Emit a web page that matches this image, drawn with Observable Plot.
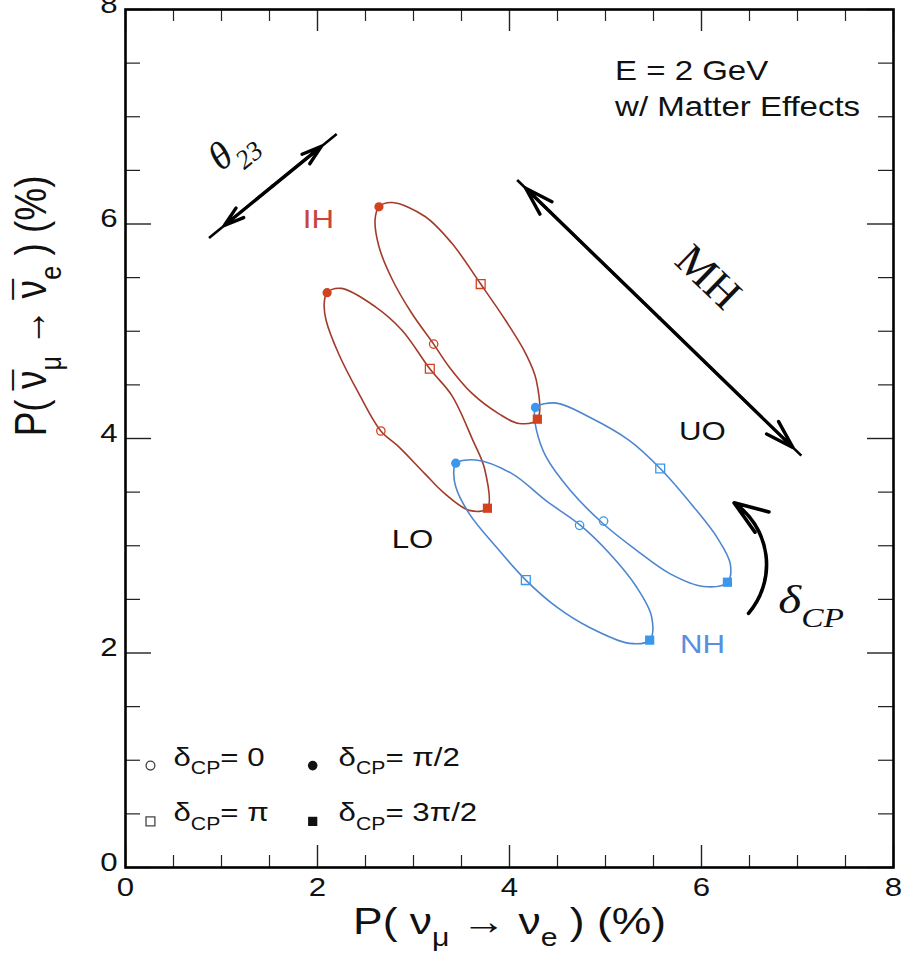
<!DOCTYPE html>
<html><head><meta charset="utf-8">
<script src="https://cdn.jsdelivr.net/npm/d3@7"></script>
<script src="https://cdn.jsdelivr.net/npm/@observablehq/plot@0.6"></script>
<style>html,body{margin:0;padding:0;background:#fff;overflow:hidden}</style>
</head><body><div id="chart"></div><script>
// ---------------- data ----------------
// δCP order for marker arrays: [0, π/2, π, 3π/2]
const deltaNames = ["0", "π/2", "π", "3π/2"];
const hierarchies = ["IH", "NH"];
const octants = ["UO", "LO"];

// curves, P(νμ→νe) %, P(ν̄μ→ν̄e) %
const ihUoCurve = [[2.64,6.16],[2.78,6.20],[3.12,6.07],[3.40,5.82],[3.70,5.44],[3.96,5.10],[4.17,4.79],[4.28,4.54],[4.29,4.18],[4.10,4.14],[3.89,4.23],[3.61,4.42],[3.37,4.67],[3.21,4.88],[2.98,5.17],[2.78,5.48],[2.64,5.79],[2.60,6.04]];
const ihLoCurve = [[2.10,5.36],[2.25,5.40],[2.60,5.23],[2.88,5.01],[3.17,4.65],[3.40,4.40],[3.62,3.98],[3.74,3.72],[3.77,3.35],[3.58,3.33],[3.32,3.49],[3.12,3.67],[2.85,3.92],[2.66,4.07],[2.43,4.42],[2.22,4.79],[2.09,5.10],[2.07,5.26]];
const nhUoCurve = [[4.27,4.29],[4.49,4.33],[4.83,4.20],[5.25,3.98],[5.57,3.72],[5.92,3.36],[6.16,3.08],[6.30,2.83],[6.27,2.66],[6.02,2.62],[5.67,2.74],[5.32,2.96],[4.97,3.21],[4.63,3.52],[4.38,3.83],[4.28,4.08],[4.26,4.23]];
const nhLoCurve = [[3.44,3.77],[3.65,3.80],[4.03,3.67],[4.38,3.42],[4.74,3.19],[5.04,2.93],[5.32,2.62],[5.48,2.34],[5.46,2.12],[5.25,2.09],[4.83,2.24],[4.49,2.43],[4.17,2.68],[3.86,2.99],[3.58,3.30],[3.44,3.55],[3.42,3.70]];

const ihUoMarkers = [[3.21,4.88],[2.64,6.16],[3.70,5.44],[4.29,4.18]];
const ihLoMarkers = [[2.66,4.07],[2.10,5.36],[3.17,4.65],[3.77,3.35]];
const nhUoMarkers = [[4.98,3.23],[4.27,4.29],[5.57,3.72],[6.27,2.66]];
const nhLoMarkers = [[4.73,3.19],[3.44,3.77],[4.17,2.68],[5.46,2.12]];

const xMajorTicks = [0, 2, 4, 6, 8];
const xMinorTicks = [0.5, 1, 1.5, 2.5, 3, 3.5, 4.5, 5, 5.5, 6.5, 7, 7.5];
const yMajorTicks = [0, 2, 4, 6, 8];
const yMinorTicks = [0.5, 1, 1.5, 2.5, 3, 3.5, 4.5, 5, 5.5, 6.5, 7, 7.5];
const xTickLabels = ["0", "2", "4", "6", "8"];
const yTickLabels = ["0", "2", "4", "6", "8"];

// ---------------- build tables ----------------
const curveSets = [
  {hier: "IH", oct: "UO", pts: ihUoCurve, mk: ihUoMarkers},
  {hier: "IH", oct: "LO", pts: ihLoCurve, mk: ihLoMarkers},
  {hier: "NH", oct: "UO", pts: nhUoCurve, mk: nhUoMarkers},
  {hier: "NH", oct: "LO", pts: nhLoCurve, mk: nhLoMarkers}
];
const curveRows = curveSets.flatMap(c => c.pts.map(([x, y]) => ({x, y, key: c.hier + c.oct, hier: c.hier})));
const markerRows = curveSets.flatMap(c => c.mk.map(([x, y], i) => ({x, y, hier: c.hier, delta: deltaNames[i]})));

// ---------------- style ----------------
const lineColor = {IH: "#a23b29", NH: "#4d86d0"};
const markColor = {IH: "#d3421f", NH: "#3a97ec"};
const labelColor = {IH: "#c8453a", NH: "#5a8fe0"};
const W = 902, H = 957, mL = 125, mR = 9, mT = 9, mB = 90;
const plotW = W - mL - mR, plotH = H - mT - mB;
const sans = "'Liberation Sans', Arial, Helvetica, sans-serif";
const serif = "'Liberation Serif', 'Times New Roman', serif";

const marks = [];
// ticks (inward, all four sides)
marks.push(Plot.ruleX(xMajorTicks, {insetTop: plotH - 22, stroke: "#222", strokeWidth: 1.4}));
marks.push(Plot.ruleX(xMinorTicks, {insetTop: plotH - 12, stroke: "#222", strokeWidth: 1.2}));
marks.push(Plot.ruleX(xMajorTicks, {insetBottom: plotH - 22, stroke: "#222", strokeWidth: 1.4}));
marks.push(Plot.ruleX(xMinorTicks, {insetBottom: plotH - 12, stroke: "#222", strokeWidth: 1.2}));
marks.push(Plot.ruleY(yMajorTicks, {insetRight: plotW - 26, stroke: "#222", strokeWidth: 1.4}));
marks.push(Plot.ruleY(yMinorTicks, {insetRight: plotW - 15, stroke: "#222", strokeWidth: 1.2}));
marks.push(Plot.ruleY(yMajorTicks, {insetLeft: plotW - 26, stroke: "#222", strokeWidth: 1.4}));
marks.push(Plot.ruleY(yMinorTicks, {insetLeft: plotW - 15, stroke: "#222", strokeWidth: 1.2}));

// curves
for (const h of hierarchies) {
  marks.push(Plot.line(curveRows.filter(d => d.hier === h), {
    x: "x", y: "y", z: "key", stroke: lineColor[h], strokeWidth: 1.6, curve: "catmull-rom-closed"
  }));
}
// markers
const markerStyle = {
  "0": {symbol: "circle", r: 4.2, open: true},
  "π/2": {symbol: "circle", r: 4.6, open: false},
  "π": {symbol: "square", r: 5, open: true},
  "3π/2": {symbol: "square", r: 5.2, open: false}
};
for (const h of hierarchies) for (const dn of deltaNames) {
  const s = markerStyle[dn];
  marks.push(Plot.dot(markerRows.filter(d => d.hier === h && d.delta === dn), {
    x: "x", y: "y", symbol: s.symbol, r: s.r,
    fill: s.open ? "white" : markColor[h], fillOpacity: s.open ? 0 : 1,
    stroke: markColor[h], strokeWidth: s.open ? 1.3 : 0
  }));
}

// annotation arrows
const theta23Arrow = [{x1: 0.87, y1: 5.87, x2: 2.20, y2: 6.84}];
const mhArrow = [{x1: 4.08, y1: 6.41, x2: 7.04, y2: 3.84}];
const dcpArrow = [{x1: 6.49, y1: 2.37, x2: 6.34, y2: 3.40}];
function doubleArrow(data, t0, t1) {
  const d = data[0];
  const mid = {x: (d.x1 + d.x2) / 2, y: (d.y1 + d.y2) / 2};
  const at = t => ({x: d.x1 + (d.x2 - d.x1) * t, y: d.y1 + (d.y2 - d.y1) * t});
  const a = at(t0), b = at(t1);
  return [
    Plot.link(data, {x1: "x1", y1: "y1", x2: "x2", y2: "y2", stroke: "black", strokeWidth: 2.6}),
    Plot.arrow([{x1: mid.x, y1: mid.y, x2: a.x, y2: a.y}, {x1: mid.x, y1: mid.y, x2: b.x, y2: b.y}],
      {x1: "x1", y1: "y1", x2: "x2", y2: "y2", stroke: "black", strokeWidth: 3.4, headLength: 13, headAngle: 34})
  ];
}
marks.push(...doubleArrow(theta23Arrow, 0.12, 0.88));
marks.push(...doubleArrow(mhArrow, 0.03, 0.97));
marks.push(Plot.arrow(dcpArrow, {x1: "x1", y1: "y1", x2: "x2", y2: "y2", bend: -48, stroke: "black", strokeWidth: 3.6, headLength: 15, headAngle: 40}));

// text annotations
marks.push(Plot.text(["E = 2 GeV"], {x: 5.10, y: 7.34, text: d => d, textAnchor: "start", fontSize: 27.5, fontFamily: sans, fill: "#111"}));
marks.push(Plot.text(["w/ Matter Effects"], {x: 5.10, y: 7.01, text: d => d, textAnchor: "start", fontSize: 27.5, fontFamily: sans, fill: "#111"}));
marks.push(Plot.text(["IH"], {x: 2.01, y: 5.96, text: d => d, fontSize: 26, fontFamily: sans, fill: labelColor.IH}));
marks.push(Plot.text(["NH"], {x: 6.01, y: 2.00, text: d => d, fontSize: 26, fontFamily: sans, fill: labelColor.NH}));
marks.push(Plot.text(["UO"], {x: 6.01, y: 3.99, text: d => d, fontSize: 26, fontFamily: sans, fill: "#111"}));
marks.push(Plot.text(["LO"], {x: 2.99, y: 2.98, text: d => d, fontSize: 26, fontFamily: sans, fill: "#111"}));
marks.push(Plot.text(["MH"], {x: 5.97, y: 5.41, text: d => d, rotate: 44, fontSize: 44, fontFamily: serif, fill: "#111"}));
marks.push(Plot.text(["θ_{23}"], {x: 1.18, y: 6.62, text: d => d, rotate: -39, fontSize: 39, fontFamily: serif, fontStyle: "italic", fill: "#111"}));
marks.push(Plot.text(["δ_{CP}"], {x: 6.80, y: 2.37, text: d => d, textAnchor: "start", fontSize: 41, fontFamily: serif, fontStyle: "italic", fill: "#111"}));

// legend
const legendRows = [
  {x: 0.26, y: 0.95, tx: 0.50, label: "δ_{CP}= 0"},
  {x: 1.95, y: 0.95, tx: 2.22, label: "δ_{CP}= π/2"},
  {x: 0.26, y: 0.43, tx: 0.50, label: "δ_{CP}= π"},
  {x: 1.95, y: 0.43, tx: 2.22, label: "δ_{CP}= 3π/2"}
];
marks.push(Plot.dot([legendRows[0]], {x: "x", y: "y", symbol: "circle", r: 4.4, fill: "none", stroke: "#444", strokeWidth: 1.3}));
marks.push(Plot.dot([legendRows[1]], {x: "x", y: "y", symbol: "circle", r: 4.8, fill: "#111"}));
marks.push(Plot.dot([legendRows[2]], {x: "x", y: "y", symbol: "square", r: 5, fill: "none", stroke: "#444", strokeWidth: 1.3}));
marks.push(Plot.dot([legendRows[3]], {x: "x", y: "y", symbol: "square", r: 5.2, fill: "#111"}));
marks.push(Plot.text(legendRows, {x: "tx", y: "y", text: "label", textAnchor: "start", fontSize: 26, fontFamily: sans, fill: "#111"}));

// tick labels
marks.push(Plot.text(xMajorTicks, {x: d => d, frameAnchor: "bottom", dy: 28, text: (d, i) => xTickLabels[i], fontSize: 26, fontFamily: sans, fill: "#111"}));
marks.push(Plot.text(yMajorTicks, {y: d => d, frameAnchor: "left", dx: -8, dy: 3, textAnchor: "end", text: (d, i) => yTickLabels[i], fontSize: 26, fontFamily: sans, fill: "#111"}));
// axis titles (^{..} = bar over, _{..} = subscript)
marks.push(Plot.text(["P( ν_{μ} → ν_{e} ) (%)"], {x: 4, frameAnchor: "bottom", dy: 66, text: d => d, fontSize: 37, fontFamily: sans, fill: "#111"}));
marks.push(Plot.text(["P( ^{ν}_{μ} → ^{ν}_{e} ) (%)"], {y: 4.02, frameAnchor: "left", dx: -80, rotate: -90, text: d => d, fontSize: 37, fontFamily: sans, fill: "#111"}));

marks.push(Plot.frame({stroke: "black", strokeWidth: 2.6}));

const chart = Plot.plot({
  width: W, height: H,
  marginLeft: mL, marginRight: mR, marginTop: mT, marginBottom: mB,
  x: {domain: [0, 8], axis: null},
  y: {domain: [0, 8], axis: null},
  style: {background: "white", fontFamily: sans, color: "#111"},
  marks
});
document.getElementById("chart").appendChild(chart);

// ---------- post-processing: subscripts, bars and horizontal text stretch ----------
const NS = "http://www.w3.org/2000/svg";
function tspan(txt) { const t = document.createElementNS(NS, "tspan"); t.textContent = txt; return t; }
function richText(el) {
  const s = el.textContent;
  if (!/[_^]\{/.test(s)) return;
  while (el.firstChild) el.removeChild(el.firstChild);
  const parts = s.split(/([_^]\{[^}]*\})/);
  let lowered = false, pendingDx = null;
  for (const p of parts) {
    if (!p) continue;
    let t;
    if (p.startsWith("_{")) {
      t = tspan(p.slice(2, -1));
      t.setAttribute("font-size", "68%");
      t.setAttribute("dy", (0.34 / 0.68).toFixed(3) + "em");
      if (pendingDx) t.setAttribute("dx", (parseFloat(pendingDx) / 0.68).toFixed(3) + "em");
      pendingDx = null;
      el.appendChild(t);
      lowered = true;
      continue;
    }
    if (p.startsWith("^{")) {
      t = tspan(p.slice(2, -1));
      if (lowered) { t.setAttribute("dy", "-0.34em"); lowered = false; }
      el.appendChild(t);
      const bar = tspan("\u00AF");
      bar.setAttribute("dx", "-0.53em");
      el.appendChild(bar);
      pendingDx = "-0.02em";
      continue;
    }
    t = tspan(p);
    if (lowered) { t.setAttribute("dy", "-0.34em"); lowered = false; }
    if (pendingDx) { t.setAttribute("dx", pendingDx); pendingDx = null; }
    el.appendChild(t);
  }
}
chart.querySelectorAll("text").forEach(el => {
  richText(el);
  let tr = el.getAttribute("transform") || "";
  const x = el.getAttribute("x"), y = el.getAttribute("y");
  if (x != null || y != null) {
    tr += ` translate(${+x || 0},${+y || 0})`;
    el.removeAttribute("x"); el.removeAttribute("y");
  }
  if (/rotate\(-90\)/.test(tr)) tr += " scale(1,1.2)";
  else if (!/rotate\(/.test(tr)) tr += " scale(1.2,1)";
  el.setAttribute("transform", tr.trim());
});
</script></body></html>
